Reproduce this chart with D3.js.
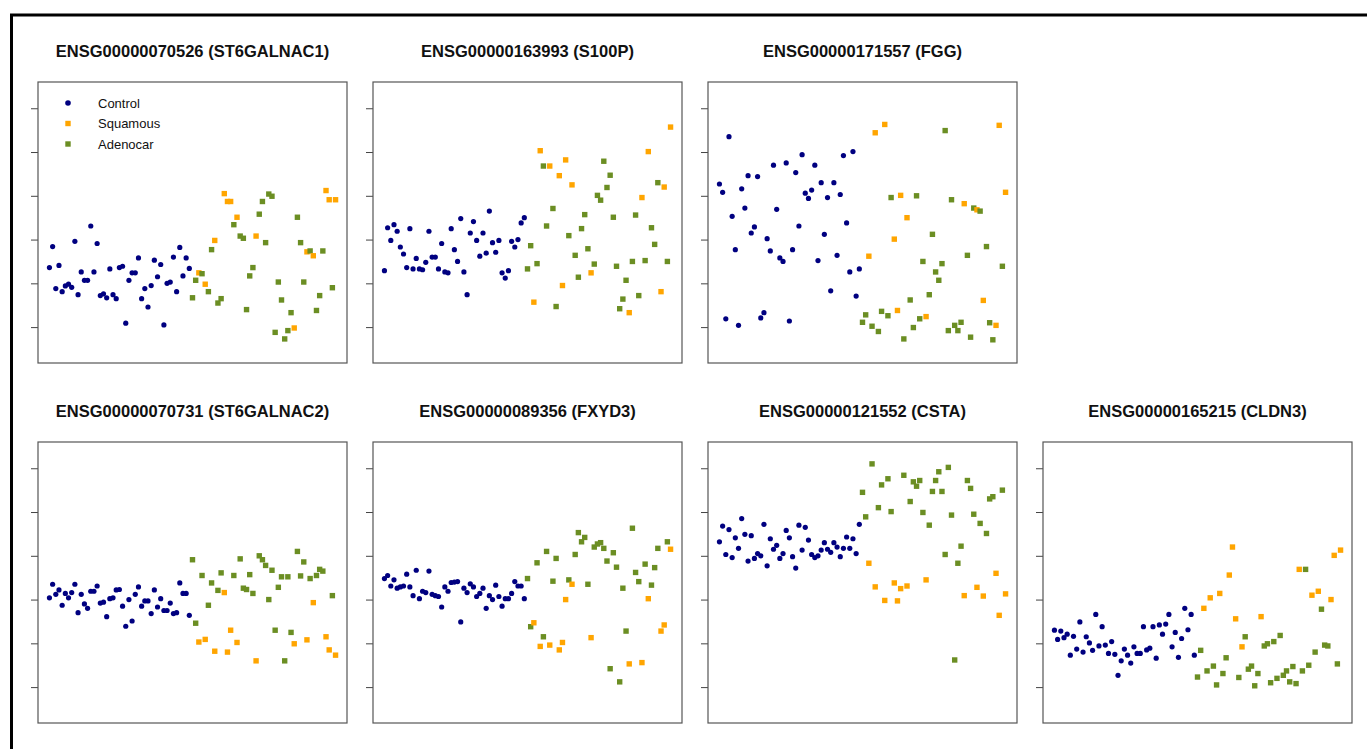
<!DOCTYPE html>
<html>
<head>
<meta charset="utf-8">
<script src="https://d3js.org/d3.v7.min.js"></script>
<style>
  body { margin: 0; background: #fff; }
</style>
</head>
<body>
<div id="chart"></div>
<script>
// Gene panels, in drawing order (row 1: 3 panels, row 2: 4 panels)
const geneTitles = [
    "ENSG00000070526 (ST6GALNAC1)", "ENSG00000163993 (S100P)", "ENSG00000171557 (FGG)",
    "ENSG00000070731 (ST6GALNAC2)", "ENSG00000089356 (FXYD3)", "ENSG00000121552 (CSTA)",
    "ENSG00000165215 (CLDN3)"
];

const groupNames = ["Control", "Squamous", "Adenocar"];
const NUM_CONTROL = 45;
// tumour samples in array order (S = Squamous, A = Adenocar)
const tumorGroups = ["A","A","S","A","S","A","A","S","A","A","S","S","S","A","S","A","A","A","A","A",
    "S","A","A","A","A","A","A","A","A","A","A","A","S","A","A","A","S","A","S","A","A","A","S","S","A","S"];

// y tick values (labels hidden in the original)
const yTicks = [0, 1, 2, 3, 4, 5];

// expression values: 45 controls then 46 tumours
const st6galnac1 = [1.36,1.84,0.88,1.41,0.81,0.94,0.98,0.91,1.96,0.74,1.26,1.07,1.07,2.31,1.26,1.91,0.72,0.76,0.67,1.33,
    0.74,0.65,1.36,1.39,0.09,1.07,1.24,1.24,1.58,0.65,0.88,0.46,0.95,1.53,1.15,1.43,0.05,1.00,1.03,1.60,0.81,1.82,1.17,1.58,1.34,
    0.67,1.07,1.24,1.22,0.98,0.81,1.77,1.98,0.55,0.65,3.05,2.87,2.87,2.34,2.51,2.08,2.03,0.40,1.17,1.36,
    2.08,2.58,2.87,1.93,3.04,2.99,-0.12,1.03,0.62,-0.27,-0.08,0.33,-0.02,2.51,1.93,1.03,1.72,1.74,1.63,0.38,
    0.72,1.74,3.12,2.91,0.90,2.91];
const s100p = [1.29,2.27,1.98,2.34,2.19,1.83,1.67,1.36,2.25,1.33,1.57,1.33,1.31,1.48,2.19,1.60,1.60,1.33,1.91,1.26,
    1.24,2.25,1.77,1.50,2.48,1.26,0.74,2.15,2.41,1.98,1.62,2.15,1.69,2.65,1.93,1.71,1.98,1.24,1.12,1.29,1.96,1.83,2.00,2.38,2.50,
    1.33,1.86,0.57,1.45,4.03,3.68,2.31,3.68,2.71,0.47,3.46,0.95,3.82,2.09,3.25,1.64,1.14,2.25,2.57,1.79,
    1.24,1.44,3.01,2.90,3.79,3.19,3.47,2.51,1.39,0.42,0.64,1.07,0.33,1.50,2.56,0.72,2.96,1.52,4.01,2.27,
    1.89,3.30,0.81,3.20,1.50,4.57];
const fgg = [3.27,3.08,0.19,4.35,2.53,1.77,0.04,3.16,2.72,3.46,2.15,2.29,3.44,0.21,0.33,2.02,1.74,3.70,2.69,1.58,
    1.50,3.75,0.14,1.77,3.53,2.31,3.94,3.06,2.94,3.13,3.70,1.52,3.30,2.12,2.96,0.83,3.30,1.64,3.03,3.92,2.38,1.26,4.01,0.71,1.33,
    0.11,0.28,1.62,0.02,4.44,-0.10,0.36,4.63,0.26,2.96,2.01,0.38,3.01,-0.27,2.50,0.62,-0.01,3.00,0.19,1.50,
    0.24,0.74,2.12,1.26,1.07,1.45,4.49,-0.08,2.91,0.04,-0.08,0.11,2.82,1.64,-0.23,2.72,2.68,2.65,0.61,1.84,
    0.10,-0.29,0.04,4.61,1.39,3.08];
const st6galnac2 = [2.04,2.35,2.12,2.22,1.87,2.14,2.04,2.16,2.35,1.70,2.12,1.90,1.80,2.19,2.19,2.31,1.92,1.94,1.61,2.02,
    2.04,2.22,2.23,1.85,1.39,2.00,1.51,2.12,2.29,1.85,1.97,1.97,1.68,2.22,1.83,2.02,1.75,1.75,1.92,1.68,1.70,2.38,2.14,2.14,1.64,
    2.91,1.46,1.03,2.55,1.09,1.87,2.38,0.82,2.21,2.61,2.16,0.80,1.30,2.55,1.02,2.93,2.26,2.23,2.57,2.14,
    0.60,3.00,2.91,2.78,2.00,2.67,1.30,2.28,2.52,0.60,2.52,1.25,0.99,3.10,2.54,2.86,1.08,2.48,1.93,2.55,
    2.69,2.65,1.15,0.85,2.09,0.73];
const fxyd3 = [2.48,2.55,2.31,2.45,2.26,2.29,2.31,2.58,2.29,2.09,2.67,2.02,2.19,2.16,2.65,2.12,2.09,2.07,1.83,2.29,
    2.19,2.39,2.40,2.41,1.49,2.26,2.16,2.36,2.29,2.07,2.14,2.26,1.80,2.09,2.00,2.33,2.07,1.85,2.02,2.02,2.14,2.41,2.31,2.31,2.02,
    2.48,1.38,1.47,2.84,0.93,1.15,3.10,0.96,2.42,2.94,0.85,1.02,2.00,2.45,2.35,3.03,3.53,3.32,3.42,2.35,
    1.13,3.20,3.27,3.30,3.17,2.88,0.42,3.07,2.74,0.12,2.26,1.28,0.53,3.63,2.62,2.41,0.56,2.81,2.02,2.33,
    2.73,3.17,1.28,1.42,3.32,3.15];
const csta = [3.32,3.68,3.03,3.60,2.96,3.41,3.17,3.85,3.49,2.88,3.46,2.94,3.05,3.00,3.72,2.77,3.39,3.15,3.24,2.94,
    3.05,3.58,3.41,2.98,2.72,3.70,3.13,3.65,3.36,3.03,2.96,3.00,3.13,3.30,3.15,3.08,3.30,3.20,2.98,3.17,3.43,3.17,3.39,3.05,3.72,
    4.45,3.89,2.83,5.10,2.29,4.10,4.62,1.98,4.76,4.01,2.38,1.97,2.25,4.84,2.31,4.24,4.69,4.59,4.72,3.99,
    2.45,3.70,4.47,4.72,4.92,4.47,3.03,5.02,3.93,0.62,2.83,3.22,2.09,4.72,4.54,3.95,2.28,3.74,2.08,3.51,
    4.30,4.35,2.60,1.64,4.50,2.13];
const cldn3 = [1.30,1.09,1.28,1.13,1.21,0.73,1.16,0.87,1.49,0.80,1.15,1.01,0.84,1.66,0.94,1.38,0.96,0.77,1.04,0.75,
    0.27,0.60,0.87,0.73,0.55,0.92,0.77,0.77,1.38,0.85,0.89,1.38,0.66,1.42,1.21,1.44,1.66,0.92,1.25,0.68,1.11,1.80,1.31,1.66,0.73,
    0.23,0.84,1.80,0.37,2.04,0.48,0.05,2.14,0.31,0.67,2.56,3.20,1.56,0.22,0.92,1.15,0.41,0.48,0.03,0.31,
    1.61,0.94,0.99,0.10,1.04,0.20,1.18,0.27,0.37,0.12,0.47,0.08,2.69,0.37,2.69,0.50,2.10,0.80,2.19,1.78,
    0.96,0.94,2.00,3.01,0.53,3.13];

const geneValues = [st6galnac1, s100p, fgg, st6galnac2, fxyd3, csta, cldn3];

// sample group for every x index
const sampleGroups = [];
for (let i = 0; i < NUM_CONTROL; i++) sampleGroups.push("Control");
tumorGroups.forEach(g => sampleGroups.push(g == "S" ? "Squamous" : "Adenocar"));

const color = d3.scaleOrdinal().domain(groupNames).range(["#000080", "#FFA500", "#6B8E23"]);

// Page and panel layout
const WIDTH = 1367, HEIGHT = 749;
const panel_w = 309, panel_h = 281;
const colX = [38, 373, 708, 1043];
const rowY = [82, 442];
const panelPos = [[0, 0], [1, 0], [2, 0], [0, 1], [1, 1], [2, 1], [3, 1]];

let svg = d3.select("#chart")
    .append("svg")
    .attr("width", WIDTH)
    .attr("height", HEIGHT)
    .style("font-family", "'Liberation Sans', Arial, sans-serif");

// thick outer frame (runs off the right/bottom of the picture)
svg.append("rect")
    .attr("x", 11.5).attr("y", 15)
    .attr("width", 1450).attr("height", 800)
    .attr("fill", "none")
    .attr("stroke", "#000")
    .attr("stroke-width", 3);

// x: sample index with R-style 4% padding
const n = sampleGroups.length;
let x = d3.scaleLinear()
    .domain([1 - (n - 1) * 0.04, n + (n - 1) * 0.04])
    .range([0, panel_w]);

// y: shared across panels
let y = d3.scaleLinear()
    .domain([-0.82, 5.6])
    .range([panel_h, 0]);

geneValues.forEach(function(vals, p) {
    let g = svg.append("g")
        .attr("transform", `translate(${colX[panelPos[p][0]]}, ${rowY[panelPos[p][1]]})`);

    // title
    g.append("text")
        .attr("x", panel_w / 2)
        .attr("y", -25)
        .attr("text-anchor", "middle")
        .style("font-size", "16.5px")
        .style("font-weight", "bold")
        .attr("fill", "#111")
        .text(geneTitles[p]);

    // unlabeled y ticks
    let ax = g.append("g")
        .call(d3.axisLeft(y).tickValues(yTicks).tickSize(7).tickFormat(""));
    ax.select(".domain").remove();
    ax.selectAll("line").attr("stroke", "#444");

    let pts = vals.map((v, i) => ({idx: i + 1, val: v, group: sampleGroups[i]}));

    // control circles
    g.selectAll("circle")
        .data(pts.filter(d => d.group == "Control"))
        .enter()
        .append("circle")
        .attr("cx", d => x(d.idx))
        .attr("cy", d => y(d.val))
        .attr("r", 2.6)
        .attr("fill", color("Control"));

    // tumour squares
    g.selectAll("rect.pt")
        .data(pts.filter(d => d.group != "Control"))
        .enter()
        .append("rect")
        .attr("class", "pt")
        .attr("x", d => x(d.idx) - 2.7)
        .attr("y", d => y(d.val) - 2.7)
        .attr("width", 5.4)
        .attr("height", 5.4)
        .attr("fill", d => color(d.group));

    // panel box
    g.append("rect")
        .attr("width", panel_w)
        .attr("height", panel_h)
        .attr("fill", "none")
        .attr("stroke", "#555")
        .attr("stroke-width", 1.2);

    // legend only in the first panel
    if (p == 0) {
        let leg = g.append("g");
        groupNames.forEach(function(name, k) {
            let cy = 21 + k * 20.5;
            if (k == 0) {
                leg.append("circle").attr("cx", 30).attr("cy", cy).attr("r", 2.8).attr("fill", color(name));
            } else {
                leg.append("rect").attr("x", 27.3).attr("y", cy - 2.7)
                    .attr("width", 5.4).attr("height", 5.4).attr("fill", color(name));
            }
            leg.append("text")
                .attr("x", 60)
                .attr("y", cy + 4.5)
                .style("font-size", "13px")
                .attr("fill", "#111")
                .text(name);
        });
    }
});
</script>
</body>
</html>
